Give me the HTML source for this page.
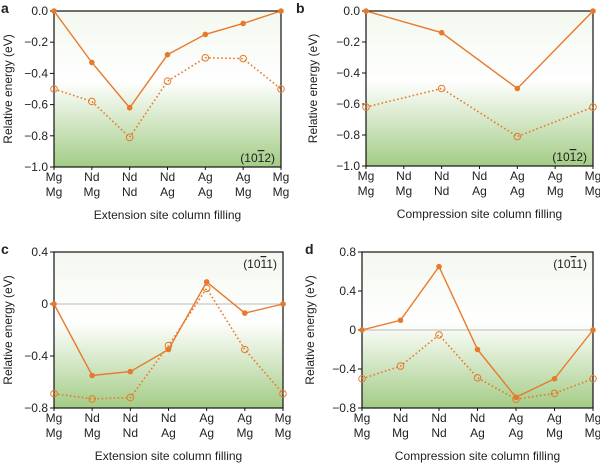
<!DOCTYPE html>
<html><head><meta charset="utf-8"><style>
body{margin:0;background:#fff;width:600px;height:463px;overflow:hidden;font-family:"Liberation Sans",sans-serif}
svg text{font-family:"Liberation Sans",sans-serif;fill:#222}
</style></head><body>
<svg id="fig" width="600" height="463" viewBox="0 0 600 463">
<defs>
<linearGradient id="g" x1="0" y1="0" x2="0" y2="1">
<stop offset="0" stop-color="#f3f8ef"/><stop offset="0.45" stop-color="#ffffff"/><stop offset="1" stop-color="#a3cc86"/>
</linearGradient>
</defs>
</svg>
<script>
const catsTop=["Mg","Nd","Nd","Nd","Ag","Ag","Mg"];
const catsBot=["Mg","Mg","Nd","Ag","Ag","Mg","Mg"];
const aSolid=[0,-0.33,-0.62,-0.28,-0.15,-0.08,0];
const aDotted=[-0.5,-0.58,-0.81,-0.45,-0.30,-0.305,-0.5];
const bIdx=[0,2,4,6];
const bSolid=[0,-0.14,-0.5,0];
const bDotted=[-0.62,-0.5,-0.81,-0.62];
const cSolid=[0,-0.55,-0.52,-0.35,0.17,-0.07,0];
const cDotted=[-0.69,-0.73,-0.72,-0.32,0.12,-0.35,-0.69];
const dSolid=[0,0.1,0.65,-0.2,-0.69,-0.5,0];
const dDotted=[-0.5,-0.37,-0.05,-0.49,-0.71,-0.65,-0.5];
const ticksA=["0.0","-0.2","-0.4","-0.6","-0.8","-1.0"];
const ticksC=["0.4","0","-0.4","-0.8"];
const ticksD=["0.8","0.4","0","-0.4","-0.8"];
const OR="#e8792b",NS="http://www.w3.org/2000/svg",svg=document.getElementById("fig");
function el(t,a,p){const e=document.createElementNS(NS,t);for(const k in a)e.setAttribute(k,a[k]);(p||svg).appendChild(e);return e;}
function panel(o){
  const g=el("g",{});
  
  
  const {L,R,T,B,ymin,ymax}=o;
  const x=i=>L+(R-L)*i/6, y=v=>T+(ymax-v)/(ymax-ymin)*(B-T);
  const bg=el("rect",{x:L,y:T,width:R-L,height:B-T,fill:"url(#g)"},g);
  
  
  if(o.zero){const z=el("line",{x1:L,x2:R,y1:y(0),y2:y(0),stroke:"#bbb","stroke-width":1},g);
    }
  const fr=el("rect",{x:L,y:T,width:R-L,height:B-T,fill:"none",stroke:"#111","stroke-width":1.2},g);
  
  o.ticks.forEach(t=>{const v=parseFloat(t);
    el("line",{x1:L-4,x2:L,y1:y(v),y2:y(v),stroke:"#111"},g);
    const tx=el("text",{x:L-6,y:y(v)+4,"text-anchor":"end","font-size":12},g);tx.textContent=t.replace("-","\u2212");
    });
  catsTop.forEach((c,i)=>{
    el("line",{x1:x(i),x2:x(i),y1:B,y2:B+3,stroke:"#111"},g);
    const t1=el("text",{x:x(i),y:B+14,"text-anchor":"middle","font-size":12},g);t1.textContent=c;
    
    const t2=el("text",{x:x(i),y:B+29,"text-anchor":"middle","font-size":12},g);t2.textContent=catsBot[i];
    });
  const xt=el("text",{x:(L+R)/2,y:B+52,"text-anchor":"middle","font-size":12},g);xt.textContent=o.xtitle;
  
  const yt=el("text",{x:0,y:0,transform:`translate(${o.ytx},${(T+B)/2}) rotate(-90)`,"text-anchor":"middle","font-size":12},g);yt.textContent="Relative energy (eV)";
  
  const lb=el("text",{x:o.lx,y:T+2,"font-size":14,"font-weight":"bold"},g);lb.textContent=o.id;
  
  const pl=el("text",{x:R-6,y:o.planeY,"text-anchor":"end","font-size":12},g);
  pl.innerHTML=o.plane;
  
  const idx=o.idx||[0,1,2,3,4,5,6];
  const pd=el("polyline",{points:o.dotted.map((v,k)=>x(idx[k])+","+y(v)).join(" "),fill:"none",stroke:OR,"stroke-width":1.6,"stroke-dasharray":"1.6 2.4"},g);
  
  o.dotted.forEach((v,k)=>{const c=el("circle",{cx:x(idx[k]),cy:y(v),r:3.3,fill:"none",stroke:OR,"stroke-width":1},g);
    });
  const ps=el("polyline",{points:o.solid.map((v,k)=>x(idx[k])+","+y(v)).join(" "),fill:"none",stroke:OR,"stroke-width":1.4},g);
  
  o.solid.forEach((v,k)=>{const c=el("circle",{cx:x(idx[k]),cy:y(v),r:2.8,fill:OR},g);
    });
}
const p12='(10<tspan text-decoration="overline">1</tspan>2)',p11='(10<tspan text-decoration="overline">1</tspan>1)';
panel({id:"a",L:54,R:281,T:11,B:167,ymin:-1,ymax:0,ticks:ticksA,solid:aSolid,dotted:aDotted,xtitle:"Extension site column filling",ytx:12,lx:1,plane:p12,planeY:162});
panel({id:"b",L:366,R:593,T:11,B:166,ymin:-1,ymax:0,ticks:ticksA,solid:bSolid,dotted:bDotted,idx:bIdx,xtitle:"Compression site column filling",ytx:317,lx:296,plane:p12,planeY:161});
panel({id:"c",L:54,R:283,T:252,B:408,ymin:-0.8,ymax:0.4,ticks:ticksC,solid:cSolid,dotted:cDotted,zero:true,xtitle:"Extension site column filling",ytx:12,lx:1,plane:p11,planeY:268});
panel({id:"d",L:362,R:593,T:252,B:408,ymin:-0.8,ymax:0.8,ticks:ticksD,solid:dSolid,dotted:dDotted,zero:true,xtitle:"Compression site column filling",ytx:314,lx:305,plane:p11,planeY:268});
</script>
</body></html>
